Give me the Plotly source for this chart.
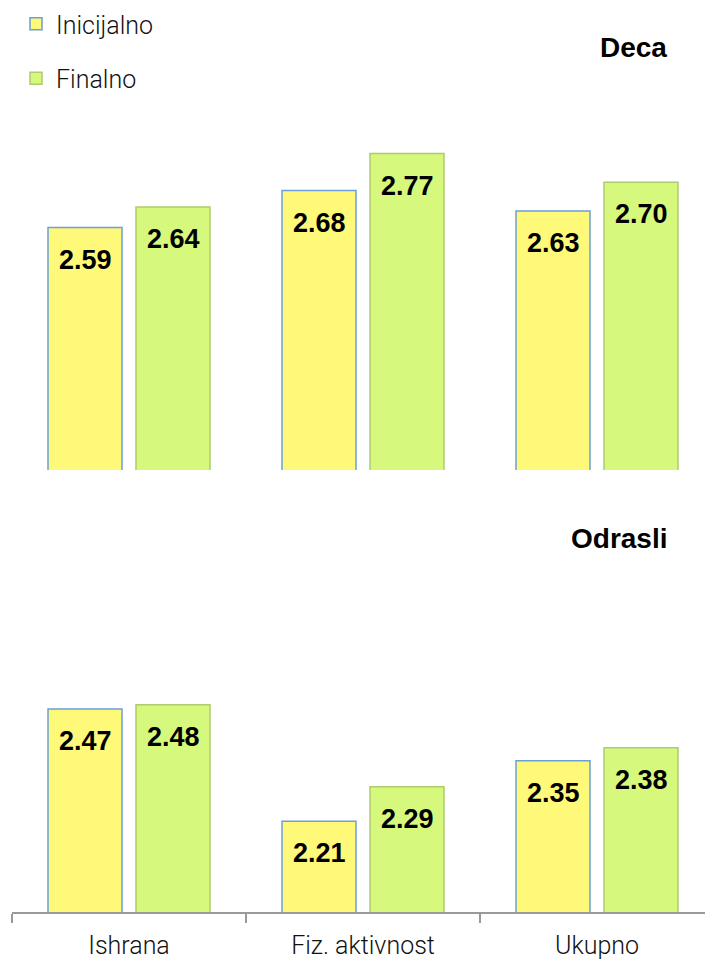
import plotly.graph_objects as go

categories = ["Ishrana", "Fiz. aktivnost", "Ukupno"]
series_names = ["Inicijalno", "Finalno"]
deca_inicijalno = [2.59, 2.68, 2.63]
deca_finalno = [2.64, 2.77, 2.70]
odrasli_inicijalno = [2.47, 2.21, 2.35]
odrasli_finalno = [2.48, 2.29, 2.38]
panel_titles = ["Deca", "Odrasli"]

FILL = ["#FFF97A", "#D6F87C"]
EDGE = ["#6C9FD6", "#AECB6E"]
LIGHT = dict(family="Roboto, 'Open Sans', sans-serif", size=25, color="#111111", weight=300)
BOLD = dict(family="'Liberation Sans', Arial, sans-serif", size=27, color="#000000", weight="bold")
TITLE = dict(family="'Liberation Sans', Arial, sans-serif", size=28, color="#000000", weight="bold")

fig = go.Figure()

panels = [("x2", "y2", [deca_inicijalno, deca_finalno]),
          ("x", "y", [odrasli_inicijalno, odrasli_finalno])]

for p, (xa, ya, series) in enumerate(panels):
    for i, vals in enumerate(series):
        fig.add_trace(go.Bar(
            x=categories, y=vals, name=series_names[i],
            xaxis=xa, yaxis=ya,
            marker=dict(color=FILL[i], line=dict(color=EDGE[i], width=1.5)),
            showlegend=(p == 0), legendgroup=series_names[i],
            hoverinfo="skip",
        ))
        for c, v in zip(categories, vals):
            fig.add_annotation(
                x=c, y=v, xref=xa, yref=ya,
                xshift=(-44 if i == 0 else 44), yshift=-32,
                text=f"{v:.2f}", showarrow=False,
                yanchor="middle", xanchor="center", font=BOLD,
            )

fig.add_annotation(x=1.0, xref="paper", xanchor="right", xshift=-36,
                   y=1.0, yref="paper", yanchor="middle", yshift=-47,
                   text=f"<b>{panel_titles[0]}</b>", showarrow=False, font=TITLE)
fig.add_annotation(x=1.0, xref="paper", xanchor="right", xshift=-36,
                   y=1.0, yref="paper", yanchor="middle", yshift=-538,
                   text=f"<b>{panel_titles[1]}</b>", showarrow=False, font=TITLE)

xrange = [-0.5, -0.5 + 693 / 234]

fig.update_layout(
    width=705, height=960,
    margin=dict(l=12, r=0, t=0, b=48),
    paper_bgcolor="white", plot_bgcolor="white",
    barmode="group", bargap=0.248, bargroupgap=0.159,
    showlegend=True,
    legend=dict(x=4 / 693, y=1.0 - 1 / 912, xanchor="left", yanchor="top",
                font=LIGHT, tracegroupgap=19, bgcolor="rgba(0,0,0,0)",
                itemwidth=30),
    xaxis=dict(domain=[0, 1], range=xrange, showline=True, linecolor="#9A9A9A",
               linewidth=1.5, ticks="outside", tickson="boundaries", ticklen=9,
               tickcolor="#9A9A9A", tickwidth=1.5, tickfont=LIGHT,
               ticklabelstandoff=10,
               showgrid=False, zeroline=False, anchor="y"),
    yaxis=dict(domain=[0, 345.6 / 912], range=[2.0, 2.8], visible=False,
               showgrid=False, zeroline=False),
    xaxis2=dict(domain=[0, 1], range=xrange, visible=False, anchor="y2",
                showgrid=False, zeroline=False, matches="x"),
    yaxis2=dict(domain=[(912 - 470) / 912, (912 - 59) / 912], range=[2.0, 3.0],
                visible=False, showgrid=False, zeroline=False),
)

fig.write_html("out.html")
